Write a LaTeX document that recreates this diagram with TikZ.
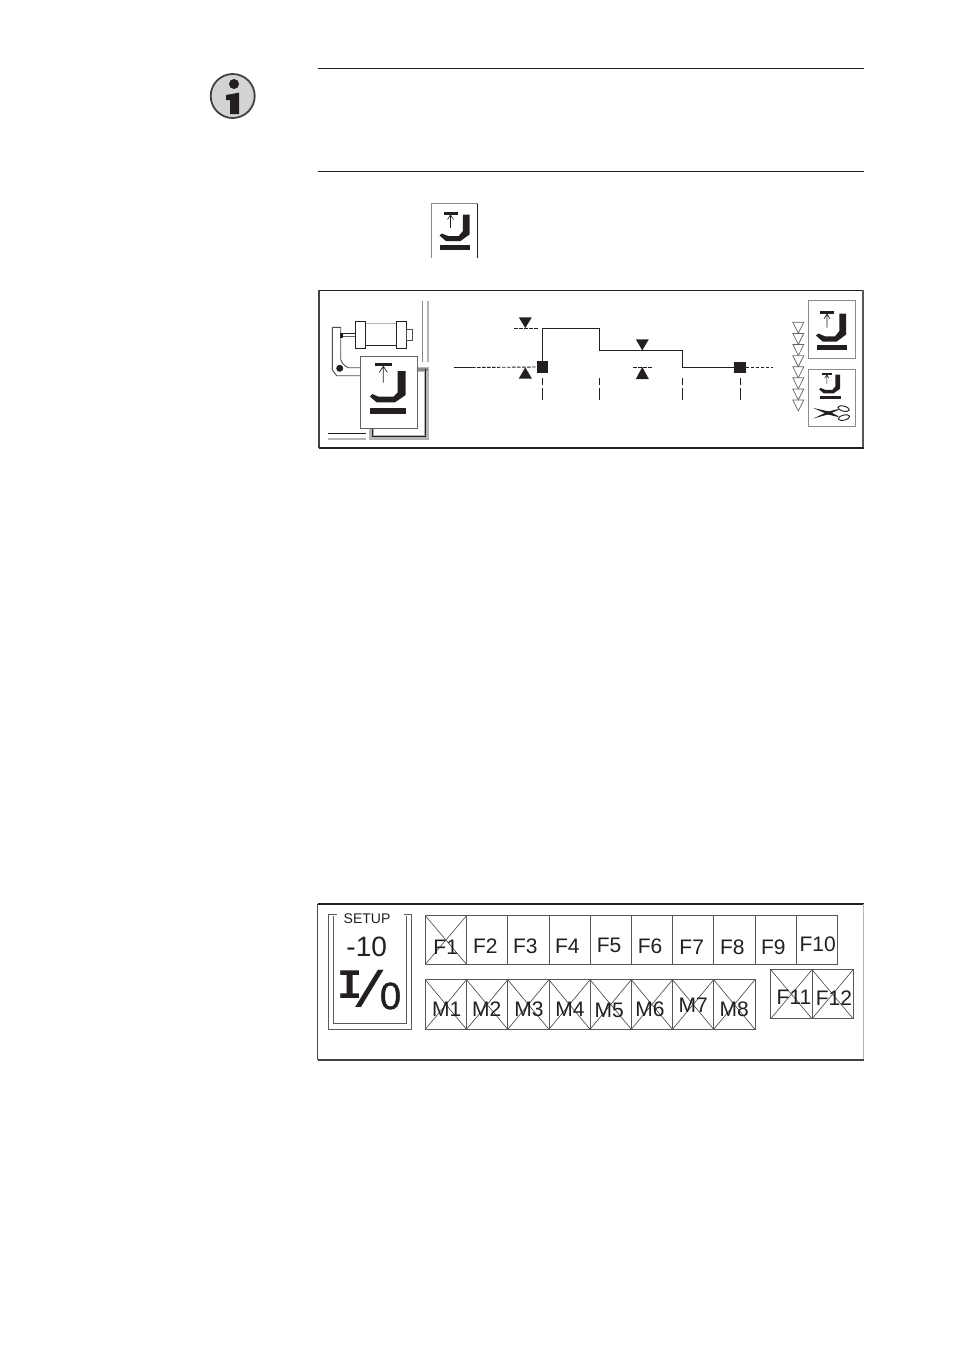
\documentclass[tikz,border=0pt]{standalone}
\usepackage{fontspec}
\setmainfont{Liberation Sans}
\newfontfamily\monob{Liberation Mono}
\newfontfamily\zerofont[FakeBold=1.2]{Liberation Sans}
\usetikzlibrary{calc}
\definecolor{ink}{HTML}{231F20}
\definecolor{midgray}{HTML}{8A8A8A}
\definecolor{lightgray}{HTML}{B5B5B5}
\definecolor{discgray}{HTML}{D1D3D4}
\tikzset{
  x=1pt,y=-1pt,
  every node/.style={outer sep=0pt},
  rulethin/.style={draw=ink,line width=1pt},
  iconbox/.style={draw=midgray,line width=1pt,fill=white,inner sep=0pt,anchor=north west},
  sq/.style={fill=ink,draw=none,minimum size=11.5pt,inner sep=0pt},
  trace/.style={draw=ink,line width=1pt},
  dashedline/.style={draw=ink,line width=.9pt,dash pattern=on 3.5pt off 1.5pt},
  tick/.style={draw=ink,line width=.9pt,dash pattern=on 7pt off 3pt on 12pt off 0pt},
  marker/.style={fill=ink,draw=none},
  chain/.style={draw=ink!70,fill=white,line width=.7pt},
  keybox/.style={draw=ink!75,line width=.7pt,inner sep=0pt,minimum width=41.2pt,anchor=north west},
  fkey/.style={keybox,minimum height=48.6pt},
  mkey/.style={keybox,minimum height=49.6pt},
  crossed/.style={path picture={
     \draw[ink!85,line width=.6pt] (path picture bounding box.north west)--(path picture bounding box.south east)
       (path picture bounding box.north east)--(path picture bounding box.south west);}},
  keytext/.style={font=\fontsize{21}{24}\selectfont,text=ink,inner sep=0pt},
  footicon/.pic={
    \fill[ink] (31.3,11)--(38,11)--(38,31)--(28.7,37.7)--(14.7,37.7)--(8,32)--(10.3,30)--(17,32.7)--(27,32.7)--(31.3,27.7)--cycle;
    \fill[ink] (8.7,41) rectangle (38.7,46);
    \fill[ink] (12,8.7) rectangle (26,11.3);
    \draw[ink,line width=.6pt] (19,11.3)--(19,24.3) (16,16)--(19,11.3)--(22,16);
  }
}
\begin{document}
\begin{tikzpicture}
\useasboundingbox (0,0) rectangle (954,1350);
\fill[white] (0,0) rectangle (954,1350);

% info disc
\node[circle,draw=ink!85,line width=1.8pt,fill=discgray,minimum size=44pt,inner sep=0pt] (info) at (232.7,96) {};
\fill[ink] (234,84) circle (5);
\fill[ink] (226,95)--(239,92.7)--(239,114)--(230,114)--(230,100)--(226,100)--cycle;

% note rules
\coordinate (r1a) at (318,68.5); \coordinate (r1b) at (863.5,68.5);
\coordinate (r2a) at (318,171); \coordinate (r2b) at (863.5,171);
\draw[rulethin] (r1a)--(r1b);
\draw[rulethin] (r2a)--(r2b);

% stand-alone key
\draw[draw=midgray,line width=1pt] (431.5,258)--(431.5,203.5)--(477.5,203.5);
\draw[draw=ink,line width=.9pt] (477.5,203.5)--(477.5,258);
\pic at (431.5,203.5) {footicon};

% upper panel
\draw[draw=ink,line width=1.2pt] (319,290.5)--(863.5,290.5);
\draw[draw=ink!85,line width=1.4pt] (319,290)--(319,448);
\draw[draw=ink!75,line width=1.1pt] (863,290)--(863,448);
\draw[draw=ink,line width=1.6pt] (319,448)--(864,448);

% vertical guide lines
\draw[midgray,line width=.9pt] (422.7,300.7)--(422.7,361.7);
\draw[lightgray,line width=1.2pt] (428,300.7)--(428,361.7);

% lower-left rails
\draw[ink,line width=.8pt] (328,433.3)--(366,433.3);
\draw[lightgray,line width=2pt] (328,438.7)--(366,438.7);

% guide behind the foot
\draw[lightgray,line width=5pt] (417,369.5)--(426,369.5)--(426,437)--(371.5,437)--(371.5,427);
\draw[midgray,line width=3pt] (417,369)--(427.5,369);
\draw[ink,line width=.9pt] (425.7,369)--(425.7,436.7)--(372,436.7)--(372,427);

% lever
\draw[draw=ink!80,line width=.9pt,fill=white] (360,367.7)--(348.3,367.7) .. controls (344,366) and (341,362) .. (340.7,359)
  --(340.7,327.3)--(332.3,327.3)--(332.3,370)--(336.7,375.7)--(360,375.7);
\fill[ink] (339.7,368.3) circle (3.5);

% cylinder
\draw[draw=lightgray,line width=1.4pt] (365.7,323.3)--(396.7,323.3);
\draw[draw=ink,line width=1.1pt] (365.7,345.3)--(396.7,345.3);
\draw[draw=ink,line width=.9pt] (340,333.5)--(355.3,333.5);
\draw[draw=ink!70,line width=.9pt] (340,336.5)--(355.3,336.5);
\fill[ink] (339.5,332.5) rectangle (342.5,337.5);
\node[draw=ink,line width=1pt,inner sep=0pt,minimum width=10.4pt,minimum height=27.3pt,anchor=north west,fill=white] (flangeL) at (355.3,321) {};
\node[draw=ink,line width=1pt,inner sep=0pt,minimum width=10pt,minimum height=27.3pt,anchor=north west,fill=white] (flangeR) at (396.7,321) {};
\node[draw=ink!80,line width=.8pt,inner sep=0pt,minimum width=5.3pt,minimum height=11pt,anchor=north west] (cap) at (406.7,329) {};

% foot icon, large
\node[iconbox,draw=ink!70,minimum width=57.7pt,minimum height=72pt] (bigkey) at (360,356) {};
\begin{scope}[shift={(315,285)},scale=1/3]
  \fill[ink] (248,258)--(272,258)--(272,330)--(240,352)--(185,352)--(165,335)--(172,327)--(190,335)--(235,335)--(248,322)--cycle;
  \fill[ink] (165,369) rectangle (272,386);
  \fill[ink] (180,235) rectangle (230,244);
  \draw[ink,line width=.7pt] (205,244)--(205,293) (193,262)--(205,244)--(217,262);
\end{scope}

% right-hand icons
\node[iconbox,minimum width=46.7pt,minimum height=57.3pt] (keyA) at (808.3,300.7) {};
\pic[yscale=1.05] at (808,302) {footicon};
\node[iconbox,minimum width=46.7pt,minimum height=57.7pt] (keyB) at (808.3,369) {};
\pic[scale=.7] at (813.5,367) {footicon};
% scissors
\fill[ink] (813.3,408)--(829,411.5)--(838.6,416.2)--(838.2,417)--(828,414.5)--cycle;
\fill[ink] (813.3,418.5)--(828,411.6)--(838.2,409)--(838.6,409.8)--(829,414.2)--cycle;
\draw[ink,line width=.9pt,rotate around={-14:(843.6,408.6)}] (843.6,408.6) ellipse (5.8 and 2.5);
\draw[ink,line width=.9pt,rotate around={14:(844,417.6)}] (844,417.6) ellipse (5.8 and 2.5);

% chain of open triangles
\foreach \i in {7,6,...,0}{
  \draw[chain] ({798.3-5.5},{322.3+11.1*\i})--({798.3+5.5},{322.3+11.1*\i})--(798.3,{333.3+11.1*\i})--cycle;
}

% timing trace
\node[sq] (sqA) at (542.5,367) {};
\node[sq] (sqB) at (740,367.3) {};
\coordinate (t1) at (542.5,328.3);
\coordinate (t2) at (599.3,328.3);
\coordinate (t3) at (599.3,350.3);
\coordinate (t4) at (682.3,350.3);
\coordinate (t5) at (682.3,367.3);
\coordinate (h0) at (454,367.5);
\coordinate (h1) at (472,367.5);
\coordinate (h2) at (773,367.3);
\draw[trace] (sqA.north)--(t1)--(t2)--(t3)--(t4)--(t5)--(sqB.west);
\draw[trace] (h0)--(h1);
\draw[dashedline] (h1)--(sqA.west);
\draw[dashedline] (sqB.east)--(h2);

% ticks
\foreach \x in {542.5,599.3,682.3,740}{
  \draw[tick] (\x,378.3)--(\x,400);
}

% markers
\draw[dashedline] (514,328.3)--(538,328.3);
\draw[dashedline] (633,367.3)--(652,367.3);
\fill[marker] (518.8,317.3)--(531.8,317.3)--(525.3,328)--cycle;
\fill[marker] (518.8,378.5)--(531.8,378.5)--(525.3,367.3)--cycle;
\fill[marker] (635.8,339.3)--(648.8,339.3)--(642.3,350.3)--cycle;
\fill[marker] (635.8,379)--(648.8,379)--(642.3,367)--cycle;

% lower panel
\draw[draw=ink,line width=1.1pt] (317.5,904)--(864,904);
\draw[draw=ink!80,line width=1pt] (317.7,904)--(317.7,1060.3);
\draw[draw=lightgray,line width=1pt] (863.3,904)--(863.3,1060);
\draw[draw=ink!85,line width=1.1pt] (317.5,1060)--(864,1060);

% setup block
\draw[draw=ink!75,line width=.8pt] (336.7,914)--(328.7,914)--(328.7,1029.3)--(411.7,1029.3)--(411.7,914)--(404.3,914);
\draw[draw=ink!75,line width=.8pt] (333.3,916)--(333.3,1023.3)--(406.7,1023.3)--(406.7,916);
\node[font=\fontsize{14}{16}\selectfont,text=ink,inner sep=0pt] (setup) at (367,919) {SETUP};
\node[font=\fontsize{28}{32}\selectfont,text=ink,inner sep=0pt] (minus) at (366.7,946.5) {-10};
\node[font=\monob\bfseries\fontsize{42}{44}\selectfont,text=ink,inner sep=0pt] (ioI) at (350.3,985) {I};
\node[font=\bfseries\fontsize{50}{52}\selectfont,text=ink,inner sep=0pt,transform shape,xslant=.42] (ioS) at (370,988.5) {/};
\node[font=\zerofont\fontsize{38}{40}\selectfont,text=ink,inner sep=0pt] (ioO) at (390.5,996) {0};

% F keys
\node[fkey,crossed] (f1) at (425.3,915.7) {};
\node[fkey] (f2) at (f1.north east) {};
\node[fkey] (f3) at (f2.north east) {};
\node[fkey] (f4) at (f3.north east) {};
\node[fkey] (f5) at (f4.north east) {};
\node[fkey] (f6) at (f5.north east) {};
\node[fkey] (f7) at (f6.north east) {};
\node[fkey] (f8) at (f7.north east) {};
\node[fkey] (f9) at (f8.north east) {};
\node[fkey] (f10) at (f9.north east) {};
% M keys
\node[mkey,crossed] (m1) at (425.3,979.7) {};
\node[mkey,crossed] (m2) at (m1.north east) {};
\node[mkey,crossed] (m3) at (m2.north east) {};
\node[mkey,crossed] (m4) at (m3.north east) {};
\node[mkey,crossed] (m5) at (m4.north east) {};
\node[mkey,crossed] (m6) at (m5.north east) {};
\node[mkey,crossed] (m7) at (m6.north east) {};
\node[mkey,crossed] (m8) at (m7.north east) {};
% F11, F12
\node[fkey,crossed,minimum height=49pt,minimum width=41.4pt] (f11) at (770.7,969.7) {};
\node[fkey,crossed,minimum height=49pt,minimum width=41pt] (f12) at (f11.north east) {};

% key labels
\node[keytext] (lf1) at (445.7,947) {F1};
\node[keytext] (lf2) at (485.3,946) {F2};
\node[keytext] (lf3) at (525.3,946) {F3};
\node[keytext] (lf4) at (567.3,946.5) {F4};
\node[keytext] (lf5) at (609,945.3) {F5};
\node[keytext] (lf6) at (650,946) {F6};
\node[keytext] (lf7) at (691.7,947) {F7};
\node[keytext] (lf8) at (732.3,947) {F8};
\node[keytext] (lf9) at (773.3,947) {F9};
\node[keytext] (lf10) at (817.7,944) {F10};
\node[keytext] (lm1) at (446.7,1009) {M1};
\node[keytext] (lm2) at (486.7,1009) {M2};
\node[keytext] (lm3) at (529,1009) {M3};
\node[keytext] (lm4) at (570,1009) {M4};
\node[keytext] (lm5) at (609.3,1010) {M5};
\node[keytext] (lm6) at (650,1009) {M6};
\node[keytext] (lm7) at (693.3,1005) {M7};
\node[keytext] (lm8) at (734.3,1009) {M8};
\node[keytext] (lf11) at (794,997.7) {F11};
\node[keytext] (lf12) at (834,997.7) {F12};
\end{tikzpicture}
\end{document}
